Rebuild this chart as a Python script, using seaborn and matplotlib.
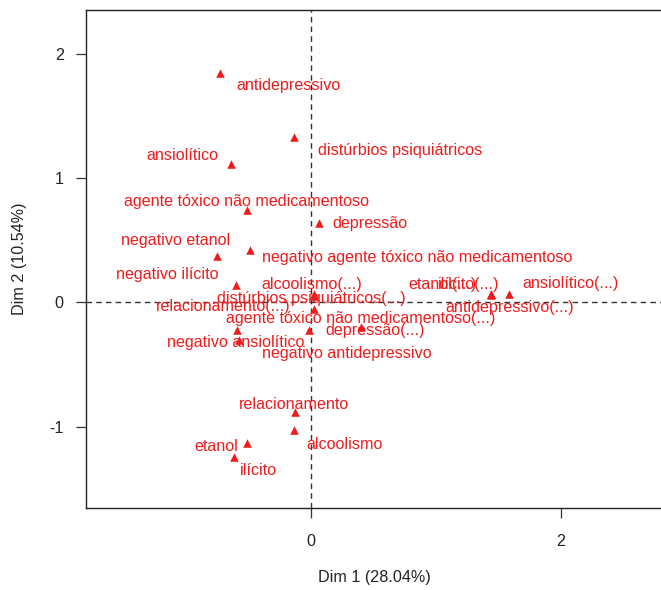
import matplotlib
matplotlib.use("Agg")
import matplotlib.pyplot as plt
import seaborn as sns
import pandas as pd

categories = [
    "antidepressivo", "distúrbios psiquiátricos", "ansiolítico",
    "agente tóxico não medicamentoso", "depressão", "negativo etanol",
    "negativo agente tóxico não medicamentoso", "negativo ilícito",
    "alcoolismo(...)", "distúrbios psiquiátricos(...)", "relacionamento(...)",
    "agente tóxico não medicamentoso(...)", "depressão(...)",
    "negativo ansiolítico", "negativo antidepressivo", "etanol(...)",
    "ilícito(...)", "ansiolítico(...)", "antidepressivo(...)",
    "relacionamento", "alcoolismo", "etanol", "ilícito",
]
dim1 = [-0.73, -0.14, -0.64, -0.51, 0.06, -0.75, -0.49, -0.60,
        0.02, 0.02, -0.59, 0.02, 0.40, -0.58, -0.02, 1.44,
        1.44, 1.58, 1.44, -0.13, -0.14, -0.51, -0.62]
dim2 = [1.84, 1.33, 1.11, 0.74, 0.64, 0.37, 0.42, 0.14,
        0.07, 0.05, -0.22, -0.05, -0.20, -0.30, -0.22, 0.07,
        0.07, 0.07, 0.06, -0.88, -1.03, -1.13, -1.24]
# label anchor (center) positions from the repelled layout
label_x = [-0.18, 0.71, -1.03, -0.52, 0.47, -1.08, 0.85, -1.15,
           0.005, 0.005, -0.70, 0.40, 0.51, -0.60, 0.29, 1.05,
           1.26, 2.08, 1.59, -0.14, 0.27, -0.76, -0.42]
label_y = [1.74, 1.22, 1.18, 0.81, 0.63, 0.50, 0.36, 0.22,
           0.14, 0.03, -0.03, -0.13, -0.23, -0.32, -0.41, 0.14,
           0.14, 0.15, -0.04, -0.82, -1.14, -1.16, -1.35]
x_ticks = [0, 2]
y_ticks = [-1, 0, 1, 2]
x_title = "Dim 1 (28.04%)"
y_title = "Dim 2 (10.54%)"

df = pd.DataFrame({"cat": categories, "dim1": dim1, "dim2": dim2,
                   "lx": label_x, "ly": label_y})

sns.set_theme(style="ticks")
plt.rcParams["font.family"] = ["Liberation Sans", "DejaVu Sans"]

fig = plt.figure(figsize=(6.61, 5.90), dpi=100)
ax = fig.add_axes([86 / 661, 1 - 508 / 590, 1 - 86 / 661 + 0.002, (508 - 10) / 590])

ax.axvline(0, color="#333333", ls=(0, (4, 3)), lw=1.0, zorder=1)
ax.axhline(0, color="#333333", ls=(0, (4, 3)), lw=1.0, zorder=1)

sns.scatterplot(data=df, x="dim1", y="dim2", marker="^", color="#ee1c1c",
                edgecolor="#ee1c1c", s=38, linewidth=0, ax=ax, zorder=3)

for _, r in df.iterrows():
    ax.text(r["lx"], r["ly"], r["cat"], color="#ee1c1c", fontsize=11.6,
            ha="center", va="center", zorder=4)

ax.set_xlim(-1.80, 2.81)
ax.set_ylim(-1.654, 2.35)
ax.set_xticks(x_ticks)
ax.set_yticks(y_ticks)
ax.set_xticklabels([str(t) for t in x_ticks])
ax.set_yticklabels([str(t) for t in y_ticks])
ax.tick_params(axis="both", direction="out", length=7, width=0.9,
               color="#333333", labelsize=11.6, labelcolor="#222222")
ax.tick_params(axis="x", pad=12)
ax.tick_params(axis="y", pad=9)
for s in ax.spines.values():
    s.set_color("#222222")
    s.set_linewidth(1.0)

ax.set_xlabel(x_title, fontsize=11.6, color="#222222")
ax.set_ylabel(y_title, fontsize=11.6, color="#222222")
ax.xaxis.set_label_coords(0.50, -0.125)
ax.yaxis.set_label_coords(-0.103, 0.50)

fig.savefig("out.png", dpi=100)
